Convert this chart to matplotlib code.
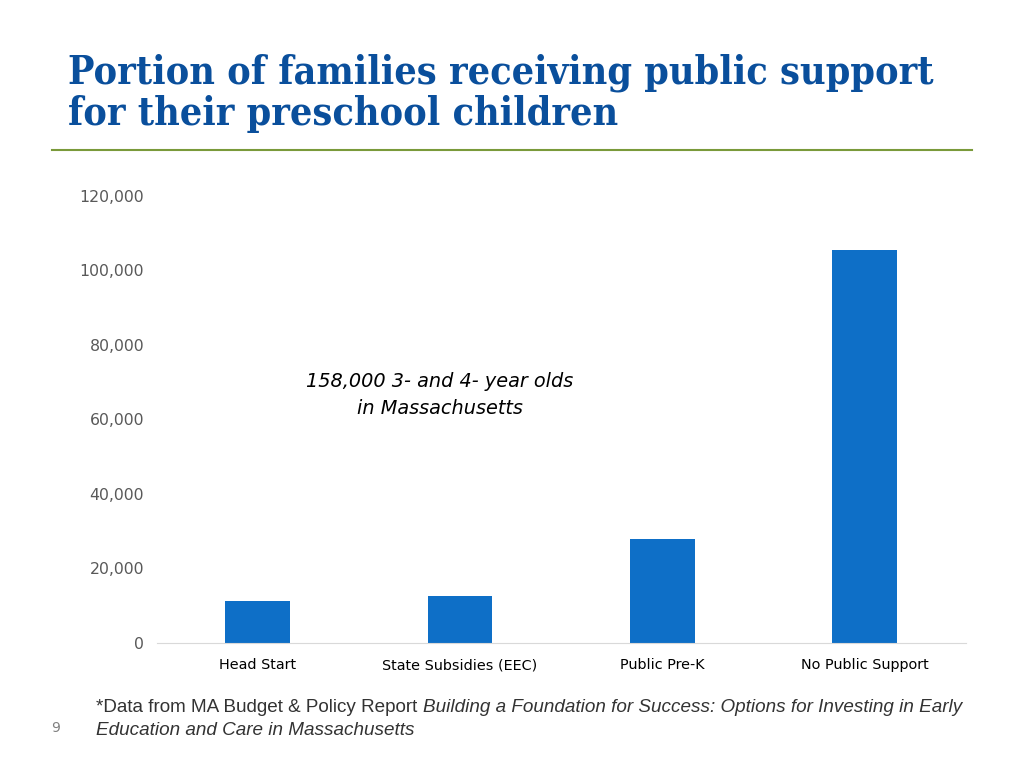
import matplotlib.pyplot as plt

plt.rcParams['font.family'] = ['DejaVu Sans']

# data
categories = ["Head Start", "State Subsidies (EEC)", "Public Pre-K", "No Public Support"]
families = [11300, 12700, 28000, 105500]
y_ticks = [0, 20000, 40000, 60000, 80000, 100000, 120000]

title_lines = ["Portion of families receiving public support", "for their preschool children"]
note = "158,000 3- and 4- year olds\nin Massachusetts"

fig = plt.figure(figsize=(10.24, 7.68), dpi=100)
ax = fig.add_axes([0.153, 0.1628, 0.79, 0.582])

ax.bar(range(len(categories)), families, width=0.32, color="#0e6fc7")
ax.set_xlim(-0.5, len(categories) - 0.5)
ax.set_ylim(0, 120000)
ax.set_yticks(y_ticks)
ax.set_yticklabels(["{:,}".format(v) for v in y_ticks], color="#595959", fontsize=11.3)
ax.set_xticks(range(len(categories)))
ax.set_xticklabels(categories, fontsize=10.4, color="black")
ax.tick_params(axis="both", length=0)
ax.tick_params(axis="y", pad=9)
ax.tick_params(axis="x", pad=11)

for s in ["top", "right", "left"]:
    ax.spines[s].set_visible(False)
ax.spines["bottom"].set_color("#d9d9d9")

ax.text(0.9, 66600, note, ha="center", va="center", fontsize=13.9, style="italic",
        linespacing=1.5)

# title (two lines placed on their baselines) and rule
for i, line in enumerate(title_lines):
    fig.text(0.066, 1 - (84 + 41 * i) / 768, line, ha="left", va="baseline",
             fontsize=28.3, fontweight="bold", fontstretch="condensed",
             family="DejaVu Serif", color="#0a4f9c")
fig.add_artist(plt.Line2D([0.051, 0.949], [0.805, 0.805], color="#7a9a3a", lw=1.5))

# footnote: regular part then italic title right after it
fs = 13.6
t1 = fig.text(0.094, 0.0785, "*Data from MA Budget & Policy Report ", fontsize=fs,
              family="Liberation Sans", color="#333333", ha="left", va="center")
fig.canvas.draw()
bb = t1.get_window_extent().transformed(fig.transFigure.inverted())
fig.text(bb.x1, 0.0785, "Building a Foundation for Success: Options for Investing in Early",
         fontsize=fs, family="Liberation Sans", style="italic", color="#333333",
         ha="left", va="center")
fig.text(0.094, 0.0485, "Education and Care in Massachusetts", fontsize=fs,
         family="Liberation Sans", style="italic", color="#333333", ha="left", va="center")
fig.text(0.054, 0.052, "9", fontsize=10, color="#808080", ha="center", va="center")

plt.savefig("out.png", dpi=100)
